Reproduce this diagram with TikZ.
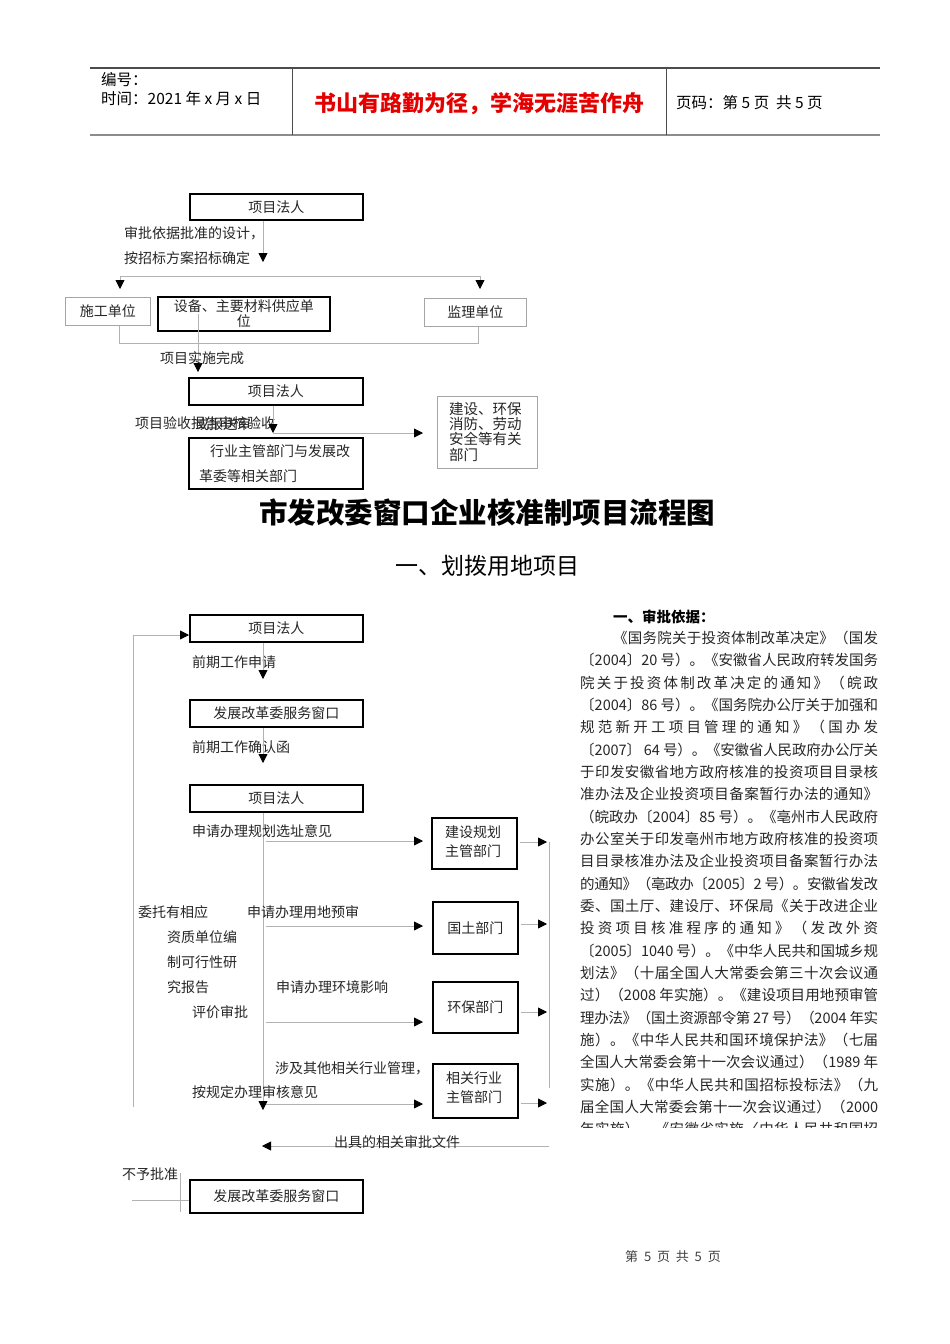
\documentclass[tikz,border=0pt]{standalone}
\usepackage{fontspec}
\setmainfont{Noto Sans CJK SC}
\usetikzlibrary{arrows.meta}
\newcommand\fsz[2]{\fontsize{#1}{#2}\selectfont}
\makeatletter
\def\spreadline#1#2{\hbox to #1{\spread@a#2\relax}}
\def\spread@a#1{#1\spread@b}
\def\spread@b{\futurelet\spread@next\spread@c}
\def\spread@c{\ifx\spread@next\relax\expandafter\@gobble\else\expandafter\spread@d\fi}
\def\spread@d#1{\hskip 0pt plus 1fil minus 1pt #1\spread@b}
\makeatother
\begin{document}
\begin{tikzpicture}[x=1pt,y=-1pt,
  thickbox/.style={draw=black, line width=1.6pt, inner sep=0pt, anchor=north west, font=\fsz{14}{16}, text=black!85, align=center},
  graybox/.style={draw=black!35, line width=0.8pt, inner sep=0pt, anchor=north west, font=\fsz{14}{16}, text=black!85, align=center},
  conn/.style={draw=black!30, line width=0.8pt},
  arr/.style={conn, -{Triangle[length=9pt,width=9pt,color=black,fill=black]}},
  lbl/.style={anchor=west, inner sep=0pt, font=\fsz{14}{16}, text=black!85},
  hlbl/.style={anchor=west, inner sep=0pt, font=\fsz{15.5}{18}, text=black},
  rline/.style={anchor=west, inner sep=0pt, font=\fsz{14.5}{17}, text=black!85}]
\useasboundingbox (0,0) rectangle (950,1344);
\fill[white] (0,0) rectangle (950,1344);

% ---------- header ----------
\draw[line width=1.2pt, black!70] (90,68) -- (880,68);
\draw[line width=2pt, black!45] (90,135) -- (880,135);
\draw[line width=0.8pt, black!70] (292,68) -- (292,135);
\draw[line width=0.8pt, black!70] (666,68) -- (666,135);
\node[hlbl] (hno) at (101,80) {编号：};
\node[hlbl] (htime) at (101,99) {时间：2021 年 x 月 x 日};
\node[inner sep=0pt, font=\fsz{22}{25}\bfseries, text=red!90!black] (hred) at (479,104) {书山有路勤为径，学海无涯苦作舟};
\node[hlbl] (hpage) at (676,103) {页码：第 5 页\ \ 共 5 页};

% ---------- top flowchart ----------
\node[thickbox, minimum width=173pt, minimum height=26pt] (p1) at (189,193) {项目法人};
\node[lbl] (l1a) at (124,233) {审批依据批准的设计，};
\node[lbl] (l1b) at (124,258) {按招标方案招标确定};
\coordinate (tA) at (263,262);
\draw[arr] (p1.south -| tA) -- (tA);
\coordinate (hL) at (120,276);
\coordinate (hR) at (480,276);
\coordinate (hLt) at (120,289);
\coordinate (hRt) at (480,289);
\draw[conn] (hL) -- (hR);
\draw[arr] (hL) -- (hLt);
\draw[arr] (hR) -- (hRt);
\node[graybox, minimum width=85pt, minimum height=28pt] (sg) at (65,297) {施工单位};
\node[thickbox, minimum width=172pt, minimum height=34pt, font=\fsz{14}{15}] (sb) at (157,296) {设备、主要材料供应单\\位};
\node[graybox, minimum width=102pt, minimum height=28pt] (jl) at (424,298) {监理单位};
\coordinate (bL) at (119,343);
\coordinate (bR) at (478,343);
\draw[conn] (bL |- sg.south) -- (bL) -- (bR) -- (bR |- jl.south);
\coordinate (vS) at (198,314);
\coordinate (vE) at (198,372);
\draw[arr] (vS) -- (vE);
\node[lbl] (l2) at (160,358) {项目实施完成};
\node[thickbox, minimum width=174pt, minimum height=27pt] (p2) at (188,377) {项目法人};
\node[lbl] (l3a) at (135,423) {项目验收报告审核验收};
\node[lbl] (l3b) at (195,424) {或报送审};
\coordinate (v2) at (273,433);
\coordinate (h2) at (423,433);
\draw[arr] (p2.south -| v2) -- (v2);
\draw[arr] (v2) -- (h2);
\node[thickbox, minimum width=174pt, minimum height=51pt] (p3) at (188,437) {};
\node[lbl] (p3a) at (210,451) {行业主管部门与发展改};
\node[lbl] (p3b) at (199,476) {革委等相关部门};
\node[graybox, minimum width=100pt, minimum height=72pt] (rb) at (437,396) {};
\node[lbl, anchor=north west, align=left, font=\fsz{14.5}{15.3}] (rbt) at (449,402) {建设、环保\\消防、劳动\\安全等有关\\部门};

% ---------- titles ----------
\node[inner sep=0pt, font=\fsz{28.5}{32}\bfseries, text=black] (title) at (487,513) {市发改委窗口企业核准制项目流程图};
\node[inner sep=0pt, font=\fsz{23}{26}, text=black] (sub) at (487,566) {一、划拨用地项目};

% ---------- bottom flowchart ----------
\node[thickbox, minimum width=173pt, minimum height=27pt] (A) at (189,614) {项目法人};
\node[thickbox, minimum width=173pt, minimum height=27pt] (B) at (189,699) {发展改革委服务窗口};
\node[thickbox, minimum width=173pt, minimum height=27pt] (C) at (189,784) {项目法人};
\node[lbl] (la) at (192,662) {前期工作申请};
\node[lbl] (lb) at (192,747) {前期工作确认函};
\coordinate (ab) at (263,679);
\coordinate (bc) at (263,763);
\coordinate (cd) at (263,1110);
\draw[arr] (A.south -| ab) -- (ab);
\draw[arr] (B.south -| bc) -- (bc);
\draw[arr] (C.south -| cd) -- (cd);
% loop
\coordinate (lpB) at (133,1107);
\coordinate (lpT) at (133,635);
\coordinate (lpE) at (189,635);
\draw[arr] (lpB) -- (lpT) -- (lpE);
% departments
\node[thickbox, minimum width=85pt, minimum height=51pt] (js) at (431,817) {};
\node[lbl, anchor=north west, align=left, font=\fsz{14}{19}] (jst) at (445,826) {建设规划\\主管部门};
\node[thickbox, minimum width=85pt, minimum height=52pt] (gt) at (432,901) {国土部门};
\node[thickbox, minimum width=85pt, minimum height=51pt] (hb) at (432,981) {环保部门};
\node[thickbox, minimum width=85pt, minimum height=54pt] (xg) at (432,1063) {};
\node[lbl, anchor=north west, align=left, font=\fsz{14}{19}] (xgt) at (446,1072) {相关行业\\主管部门};
\node[lbl] (lc) at (192,831) {申请办理规划选址意见};
\node[lbl] (ld) at (247,912) {申请办理用地预审};
\node[lbl] (le) at (276,987) {申请办理环境影响};
\node[lbl] (lf1) at (275,1068) {涉及其他相关行业管理，};
\node[lbl] (lf2) at (192,1092) {按规定办理审核意见};
\node[lbl] (w1) at (138,912) {委托有相应};
\node[lbl] (w2) at (167,937) {资质单位编};
\node[lbl] (w3) at (167,962) {制可行性研};
\node[lbl] (w4) at (167,987) {究报告};
\node[lbl] (w5) at (192,1012) {评价审批};
\coordinate (s1) at (266,841);  \coordinate (e1) at (423,841);
\coordinate (s2) at (266,926);  \coordinate (e2) at (423,926);
\coordinate (s3) at (266,1022); \coordinate (e3) at (423,1022);
\coordinate (s4) at (266,1104); \coordinate (e4) at (423,1104);
\draw[arr] (s1) -- (e1);
\draw[arr] (s2) -- (e2);
\draw[arr] (s3) -- (e3);
\draw[arr] (s4) -- (e4);
\coordinate (o1) at (547,842);
\coordinate (o2) at (547,924);
\coordinate (o3) at (547,1012);
\coordinate (o4) at (547,1103);
\draw[arr] (js.east |- o1) ++(2,0) -- (o1);
\draw[arr] (gt.east |- o2) ++(2,0) -- (o2);
\draw[arr] (hb.east |- o3) ++(2,0) -- (o3);
\draw[arr] (xg.east |- o4) ++(2,0) -- (o4);
\coordinate (rT) at (549,842);
\coordinate (rB) at (549,1088);
\draw[conn] (rT) -- (rB);
\coordinate (ret0) at (549,1146);
\coordinate (ret1) at (262,1146);
\draw[arr] (ret0) -- (ret1);
\node[lbl, anchor=center] (lg) at (397,1142) {出具的相关审批文件};
\node[lbl] (lh) at (122,1174) {不予批准};
\node[thickbox, minimum width=173pt, minimum height=33pt] (D) at (189,1179) {发展改革委服务窗口};
\coordinate (dv1) at (180,1173);
\coordinate (dv2) at (180,1212);
\coordinate (dh1) at (132,1200);
\draw[conn] (dv1) -- (dv2);
\draw[conn] (dh1) -- (dh1 -| D.west);

% ---------- right text ----------
\node[rline, font=\fsz{14.5}{17}\bfseries, text=black] (rh) at (613,617) {一、审批依据：};
\node[rline] (r1) at (613,638.0) {\spreadline{265pt}{《国务院关于投资体制改革决定》（国发}};
\node[rline] (r2) at (580,660.3) {\spreadline{298pt}{〔{2004}〕{20 号}）。《安徽省人民政府转发国务}};
\node[rline] (r3) at (580,682.7) {\spreadline{298pt}{院关于投资体制改革决定的通知》（皖政}};
\node[rline] (r4) at (580,705.0) {\spreadline{298pt}{〔{2004}〕{86 号}）。《国务院办公厅关于加强和}};
\node[rline] (r5) at (580,727.3) {\spreadline{298pt}{规范新开工项目管理的通知》（国办发}};
\node[rline] (r6) at (580,749.7) {\spreadline{298pt}{〔{2007}〕{ 64 号}）。《安徽省人民政府办公厅关}};
\node[rline] (r7) at (580,772.0) {\spreadline{298pt}{于印发安徽省地方政府核准的投资项目目录核}};
\node[rline] (r8) at (580,794.3) {\spreadline{298pt}{准办法及企业投资项目备案暂行办法的通知》}};
\node[rline] (r9) at (580,816.7) {\spreadline{298pt}{（皖政办〔{2004}〕{85 号}）。《亳州市人民政府}};
\node[rline] (r10) at (580,839.0) {\spreadline{298pt}{办公室关于印发亳州市地方政府核准的投资项}};
\node[rline] (r11) at (580,861.3) {\spreadline{298pt}{目目录核准办法及企业投资项目备案暂行办法}};
\node[rline] (r12) at (580,883.7) {\spreadline{298pt}{的通知》（亳政办〔{2005}〕{2 号}）。安徽省发改}};
\node[rline] (r13) at (580,906.0) {\spreadline{298pt}{委、国土厅、建设厅、环保局《关于改进企业}};
\node[rline] (r14) at (580,928.3) {\spreadline{298pt}{投资项目核准程序的通知》（发改外资}};
\node[rline] (r15) at (580,950.7) {\spreadline{298pt}{〔{2005}〕{1040 号}）。《中华人民共和国城乡规}};
\node[rline] (r16) at (580,973.0) {\spreadline{298pt}{划法》（十届全国人大常委会第三十次会议通}};
\node[rline] (r17) at (580,995.3) {\spreadline{298pt}{过）（{2008 年}实施）。《建设项目用地预审管}};
\node[rline] (r18) at (580,1017.7) {\spreadline{298pt}{理办法》（国土资源部令第{ 27 号}）（{2004 年}实}};
\node[rline] (r19) at (580,1040.0) {\spreadline{298pt}{施）。《中华人民共和国环境保护法》（七届}};
\node[rline] (r20) at (580,1062.3) {\spreadline{298pt}{全国人大常委会第十一次会议通过）（{1989 年}}};
\node[rline] (r21) at (580,1084.7) {\spreadline{298pt}{实施）。《中华人民共和国招标投标法》（九}};
\node[rline] (r22) at (580,1107.0) {\spreadline{298pt}{届全国人大常委会第十一次会议通过）（{2000}}};
\begin{scope}
\clip (570,1115) rectangle (890,1127);
\node[rline] (r23) at (580,1129.3) {\spreadline{298pt}{年实施）。《安徽省实施〈中华人民共和国招}};
\end{scope}

% ---------- footer ----------
\node[inner sep=0pt, font=\fsz{13}{15}, text=black!75] (foot) at (673,1257) {第\ \ 5\ \ 页\ \ 共\ \ 5\ \ 页};
\end{tikzpicture}
\end{document}
